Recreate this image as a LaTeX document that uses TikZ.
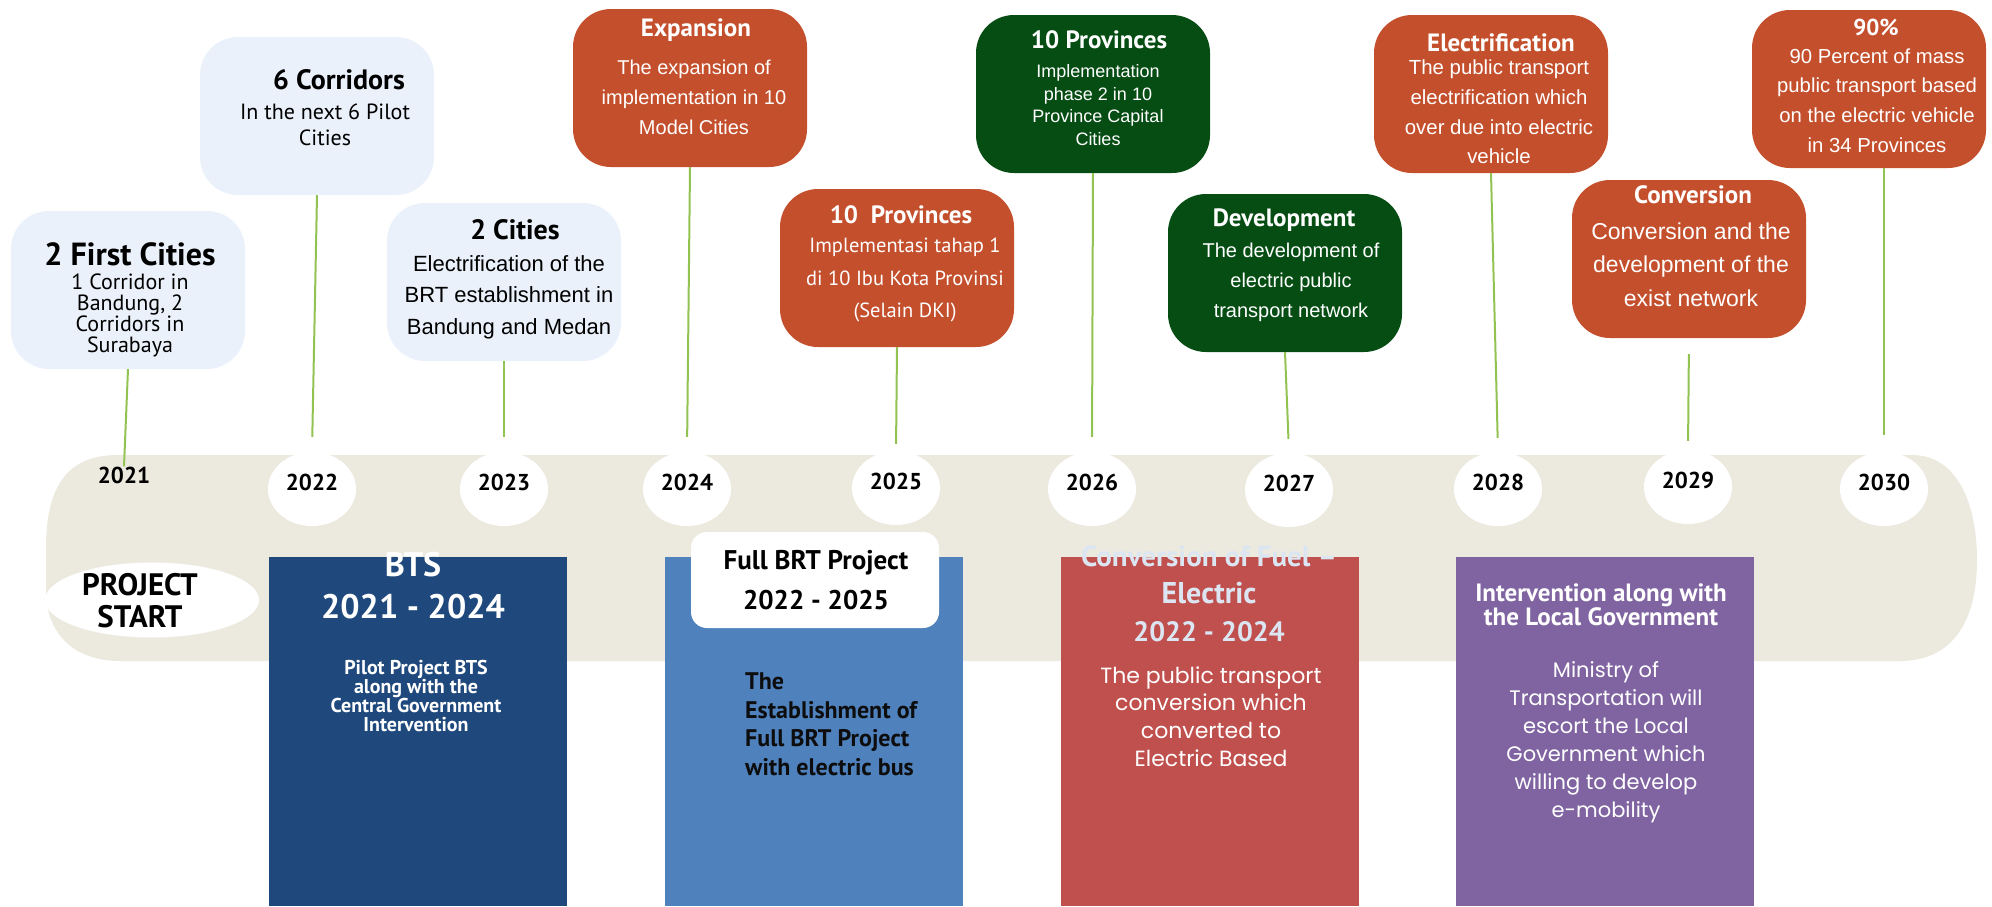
\documentclass[tikz,border=0pt]{standalone}
\usepackage{fontspec}
\setmainfont{Liberation Sans}
\newfontfamily\gill{PT Sans}
\newfontfamily\gothic{Poppins}
\usetikzlibrary{shapes.geometric}

\definecolor{paleblue}{HTML}{EAF1FA}
\definecolor{rust}{HTML}{C44F2C}
\definecolor{forest}{HTML}{064D14}
\definecolor{stemgreen}{HTML}{92C352}
\definecolor{bandgray}{HTML}{ECEADF}
\definecolor{navy}{HTML}{1F497D}
\definecolor{steel}{HTML}{4F81BD}
\definecolor{brick}{HTML}{C0504D}
\definecolor{plum}{HTML}{8064A2}
\definecolor{frost}{HTML}{DCE6F2}

\newcommand{\setfs}[2]{\fontsize{#1}{#2}\selectfont}

\tikzset{
  card/.style={rectangle, rounded corners=38pt, minimum width=234pt, minimum height=158pt, inner sep=0pt},
  pale/.style={card, fill=paleblue},
  hot/.style={card, fill=rust},
  deep/.style={card, fill=forest},
  stem/.style={draw=stemgreen, line width=2pt},
  year/.style={ellipse, fill=white, minimum width=88pt, minimum height=74pt, inner sep=0pt,
    font=\gill\bfseries\setfs{23}{23}, text depth=14pt},
  pillar/.style={rectangle, minimum width=298pt, minimum height=349pt, inner sep=0pt, anchor=north},
  title/.style={font=\gill\bfseries\setfs{25}{25}, inner sep=0pt},
  body/.style={font=\setfs{20}{30}, align=center, inner sep=0pt},
}

\begin{document}
\begin{tikzpicture}[x=1pt, y=-1pt]
    \useasboundingbox (0,0) rectangle (1992,906);

    % milestone cards above the line
    \node[pale] (first) at (128,290) {};
    \node[pale] (corridors) at (317,116) {};
    \node[pale] (cities) at (504,282) {};
    \node[hot] (expansion) at (690,88) {};
    \node[hot] (prov1) at (897,268) {};
    \node[deep] (prov2) at (1093,94) {};
    \node[deep] (develop) at (1285,273) {};
    \node[hot] (electrify) at (1491,94) {};
    \node[hot] (convert) at (1689,259) {};
    \node[hot] (ninety) at (1869,89) {};

    % the time band
    \fill[bandgray] (46,548) .. controls (46,480) and (72,455) .. (118,455) -- (1912,455)
        .. controls (1958,455) and (1977,505) .. (1977,560)
        .. controls (1977,625) and (1950,661) .. (1900,661) -- (120,661)
        .. controls (72,661) and (46,632) .. (46,590) -- cycle;

    \node[title, font=\gill\bfseries\setfs{23}{23}] (y2021) at (124,475) {2021};
    \node[year] (y2022) at (312,489) {2022};
    \node[year] (y2023) at (504,489) {2023};
    \node[year] (y2024) at (687,489) {2024};
    \node[year] (y2025) at (896,488) {2025};
    \node[year] (y2026) at (1092,489) {2026};
    \node[year] (y2027) at (1289,490) {2027};
    \node[year] (y2028) at (1498,489) {2028};
    \node[year] (y2029) at (1688,487) {2029};
    \node[year] (y2030) at (1884,489) {2030};

    \node[ellipse, fill=white, minimum width=214pt, minimum height=75pt, inner sep=0pt] (start) at (152,600) {};
    \node[title, font=\gill\bfseries\setfs{31}{32}, align=center] (startlbl) at (140,601) {PROJECT\\START};

    % stems from cards down to the years
    \draw[stem] (first.south) -- (y2021.north);
    \draw[stem, shorten >=15pt] (corridors.south) -- (y2022.north);
    \draw[stem, shorten >=15pt] (cities.south) -- (y2023.north);
    \draw[stem, shorten >=15pt] (expansion.south) -- (y2024.north);
    \draw[stem, shorten >=7pt] (prov1.south) -- (y2025.north);
    \draw[stem, shorten >=15pt] (prov2.south) -- (y2026.north);
    \draw[stem, shorten >=14pt] (develop.south) -- (y2027.north);
    \draw[stem, shorten >=14pt] (electrify.south) -- (y2028.north);
    \draw[stem, shorten <=16pt, shorten >=9pt] (convert.south) -- (y2029.north);
    \draw[stem, shorten >=17pt] (ninety.south -| y2030.north) -- (y2030.north);

    % card texts
    \node[title, font=\gill\bfseries\setfs{32}{32}] (firstT) at (130,254) {2 First Cities};
    \node[body, font=\gill\setfs{22}{21}] (firstB) at (130,315) {1 Corridor in\\Bandung, 2\\Corridors in\\Surabaya};
    \node[title, font=\gill\bfseries\setfs{28}{28}] (corridorsT) at (339,80) {6 Corridors};
    \node[body, font=\gill\setfs{22}{26}] (corridorsB) at (325,125) {In the next 6 Pilot\\Cities};
    \node[title, font=\gill\bfseries\setfs{28}{28}] (citiesT) at (515,230) {2 Cities};
    \node[body, font=\setfs{22}{31.5}] (citiesB) at (509,297) {Electrification of the\\BRT establishment in\\Bandung and Medan};

    \node[title, text=white] (expansionT) at (696,30) {Expansion};
    \node[body, text=white] (expansionB) at (694,97) {The expansion of\\implementation in 10\\Model Cities};
    \node[title, text=white] (prov1T) at (901,215) {10\ \ Provinces};
    \node[body, text=white, font=\gill\setfs{20.5}{32.5}] (prov1B) at (905,280) {Implementasi tahap 1\\di 10 Ibu Kota Provinsi\\(Selain DKI)};
    \node[title, text=white] (prov2T) at (1099,40) {10 Provinces};
    \node[body, text=white, font=\setfs{18}{22.7}] (prov2B) at (1098,105) {Implementation\\phase 2 in 10\\Province Capital\\Cities};
    \node[title, text=white] (developT) at (1284,220) {Development};
    \node[body, text=white] (developB) at (1291,282) {The development of\\electric public\\transport network};
    \node[title, text=white] (electrifyT) at (1501,43) {Electrification};
    \node[body, text=white, font=\setfs{20.4}{29.7}] (electrifyB) at (1499,112) {The public transport\\electrification which\\over due into electric\\vehicle};
    \node[title, text=white] (convertT) at (1693,195) {Conversion};
    \node[body, text=white, font=\setfs{23}{33.5}] (convertB) at (1691,264.5) {Conversion and the\\development of the\\exist network};
    \node[title, text=white, font=\gill\bfseries\setfs{23}{23}] (ninetyT) at (1876,27) {90\%};
    \node[body, text=white, font=\setfs{20.3}{29.7}] (ninetyB) at (1877,100.5) {90 Percent of mass\\public transport based\\on the electric vehicle\\in 34 Provinces};

    % programme columns below the line
    \node[pillar, fill=navy] (bts) at (418,557) {};
    \node[pillar, fill=steel] (brt) at (814,557) {};
    \node[pillar, fill=brick] (fuel) at (1209.5,557) {};
    \node[pillar, fill=plum] (local) at (1605,557) {};
    \node[fill=white, rounded corners=16pt, minimum width=248pt, minimum height=96pt, inner sep=0pt] (brtlbl) at (815,580) {};

    \node[title, text=white, font=\gill\bfseries\setfs{34}{34}] (btsT) at (413,565) {BTS};
    \node[title, text=white, font=\gill\bfseries\setfs{34}{34}] (btsY) at (413,607) {2021 - 2024};
    \node[body, text=white, font=\gill\bfseries\setfs{20}{19}] (btsB) at (416,696) {Pilot Project BTS\\along with the\\Central Government\\Intervention};

    \node[title, font=\gill\bfseries\setfs{27}{27}] (brtT) at (816,563) {Full BRT Project};
    \node[title, font=\gill\bfseries\setfs{27}{27}] (brtY) at (816,600) {2022 - 2025};
    \node[body, anchor=west, align=left, text=black!95, font=\gill\bfseries\setfs{24}{28.5}] (brtB) at (745,724.5) {The\\Establishment of\\Full BRT Project\\with electric bus};

    \node[title, text=frost, font=\gill\bfseries\setfs{29}{29}] (fuelT) at (1209,556) {Conversion of Fuel –};
    \node[title, text=frost, font=\gill\bfseries\setfs{30}{30}] (fuelE) at (1209,593) {Electric};
    \node[title, text=frost, font=\gill\bfseries\setfs{28}{28}] (fuelY) at (1209,632) {2022 - 2024};
    \node[body, text=white, font=\gothic\setfs{22}{27.7}] (fuelB) at (1211,716.5) {The public transport\\conversion which\\converted to\\Electric Based};

    \node[body, text=white, font=\gill\bfseries\setfs{25}{23}] (localT) at (1601,604.5) {Intervention along with\\the Local Government};
    \node[body, text=white, font=\gothic\setfs{21}{28}] (localB) at (1606,742) {Ministry of\\Transportation will\\escort the Local\\Government which\\willing to develop\\e-mobility};
\end{tikzpicture}
\end{document}
